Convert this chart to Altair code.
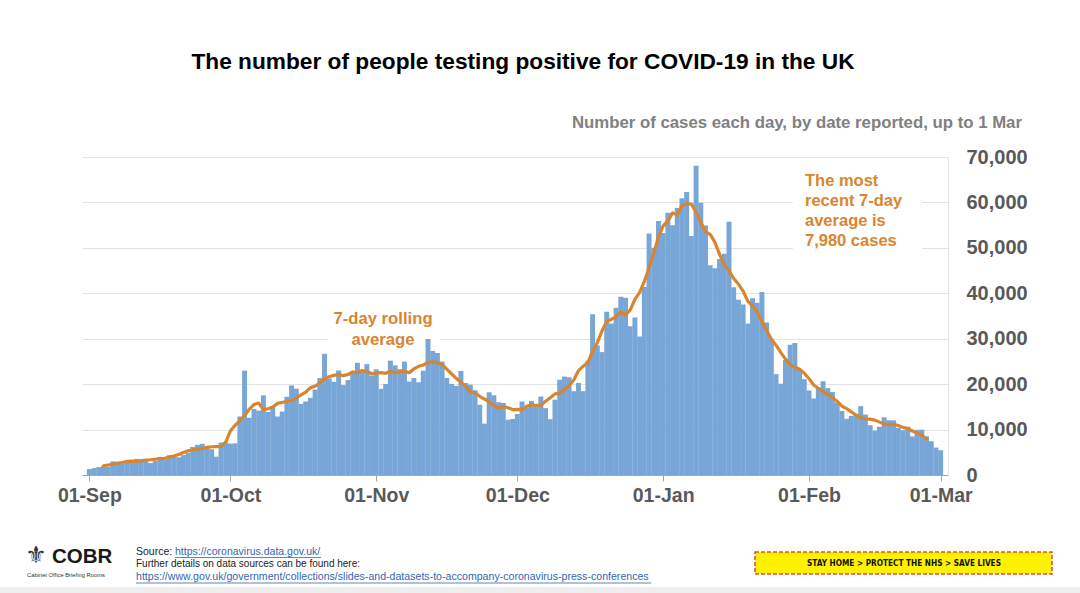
import altair as alt
import pandas as pd

# ---------------- data (daily cases by date reported) ----------------
sep_cases = [1295, 1508, 1735, 1940, 1813, 2988, 2948, 2460, 2659, 2919,
             3539, 3497, 3330, 2621, 3105, 3991, 3395, 4322, 4422, 3899,
             4368, 4926, 6178, 6634, 6874, 6042, 5693, 4044, 7143, 7108]
oct_cases = [6914, 6968, 12872, 22961, 12594, 14542, 14162, 17540, 13864, 15166,
             12872, 13972, 17234, 19724, 18980, 15650, 16171, 16982, 18804, 21331,
             26688, 21242, 20530, 23012, 19790, 20890, 22885, 24701, 23065, 24405,
             21915]
nov_cases = [23254, 18950, 20018, 25177, 24141, 23287, 24957, 20572, 21350, 20412,
             22950, 29950, 27301, 26860, 24962, 21363, 20051, 19609, 22915, 20252,
             19875, 18662, 15450, 11299, 18213, 17555, 16022, 15871, 12155, 12330]
dec_cases = [13430, 16170, 14879, 16298, 15539, 17272, 14718, 12282, 16578, 20964,
             21672, 21502, 18447, 20263, 18450, 25161, 35383, 28507, 27052, 35928,
             33364, 36804, 39237, 39036, 32725, 34693, 30501, 41385, 53135, 50023,
             55892]
jan_cases = [53285, 57725, 54990, 58784, 60916, 62322, 52618, 68053, 59937, 54940,
             46169, 45533, 47525, 48682, 55761, 41346, 38598, 37535, 33355, 38905,
             37892, 40261, 33552, 30004, 22195, 20089, 25308, 28680, 29079, 23275,
             21088]
feb_cases = [18607, 16840, 19202, 20634, 19114, 18262, 15845, 14104, 12364, 13013,
             13494, 15144, 13308, 10972, 9765, 10625, 12718, 12057, 12027, 10406,
             9834, 10641, 8489, 9938, 9985, 8523, 7434, 6035]
mar_cases = [5455]

month_ticks = [0, 30, 61, 91, 122, 153, 181]
month_labels = ["01-Sep", "01-Oct", "01-Nov", "01-Dec", "01-Jan", "01-Feb", "01-Mar"]
y_ticks = [0, 10000, 20000, 30000, 40000, 50000, 60000, 70000]

title_text = "The number of people testing positive for COVID-19 in the UK"
subtitle_text = "Number of cases each day, by date reported, up to 1 Mar"
rolling_note = ["7-day rolling", "average"]
recent_note = ["The most", "recent 7-day", "average is", "7,980 cases"]

cases = sep_cases + oct_cases + nov_cases + dec_cases + jan_cases + feb_cases + mar_cases
df = pd.DataFrame({"day": list(range(len(cases))), "cases": cases})

# ---------------- layout / style ----------------
PL, PT = 82, 157          # plot origin in page pixels
W, H = 866, 318
FONT = "Liberation Sans, Arial, sans-serif"
BAR = "#78A6D7"
ORANGE = "#D9852F"
AXIS_TXT = "#595959"

xscale = alt.Scale(domain=[-0.5, len(cases) - 0.5], nice=False, zero=False)
yscale = alt.Scale(domain=[0, 70000], nice=False)

label_expr = ("[" + ",".join("'%s'" % l for l in month_labels) + "][indexof(["
              + ",".join(str(t) for t in month_ticks) + "], datum.value)]")

x_axis = alt.Axis(values=month_ticks, labelExpr=label_expr, grid=False, title=None,
                  domainColor="#A6A6A6", tickColor="#A6A6A6", tickSize=6,
                  labelFontSize=19.5, labelFontWeight="bold", labelColor=AXIS_TXT,
                  labelFont=FONT, labelPadding=5, labelFlush=False, labelOverlap=False)
y_axis = alt.Axis(orient="right", values=y_ticks, labelExpr="format(datum.value, ',')",
                  grid=True, title=None,
                  gridColor="#E3E3E3", gridWidth=1, ticks=False,
                  domain=True, domainColor="#E3E3E3",
                  labelFontSize=20, labelFontWeight="bold", labelColor=AXIS_TXT,
                  labelFont=FONT, labelPadding=18, labelAlign="left")

one = pd.DataFrame({"k": [0]})


def txt(s, x, y, size, color, weight="normal", align="left", font=FONT):
    return alt.Chart(one).mark_text(
        text=s, fontSize=size, color=color, fontWeight=weight, align=align,
        baseline="middle", font=font
    ).encode(x=alt.value(x - PL), y=alt.value(y - PT))


def box(x1, y1, x2, y2, fill, stroke=None, dash=None, sw=0):
    kw = dict(fill=fill, strokeWidth=sw)
    if stroke:
        kw["stroke"] = stroke
    if dash:
        kw["strokeDash"] = dash
    return alt.Chart(one).mark_rect(**kw).encode(
        x=alt.value(x1 - PL), x2=alt.value(x2 - PL),
        y=alt.value(y1 - PT), y2=alt.value(y2 - PT))


def hline(x1, x2, y, color, w=0.8):
    return alt.Chart(one).mark_rule(color=color, strokeWidth=w).encode(
        x=alt.value(x1 - PL), x2=alt.value(x2 - PL), y=alt.value(y - PT))


bars = alt.Chart(df).mark_bar(color=BAR, size=4.95, orient="vertical").encode(
    x=alt.X("day:Q", scale=xscale, axis=x_axis),
    y=alt.Y("cases:Q", scale=yscale, axis=y_axis),
)

line = alt.Chart(df).transform_window(
    avg="mean(cases)", n="count(cases)", frame=[-3, 3], sort=[alt.SortField("day")]
).transform_filter("datum.n == 7").mark_line(
    color=ORANGE, strokeWidth=3.2, strokeJoin="round", strokeCap="round"
).encode(
    x=alt.X("day:Q", scale=xscale, axis=x_axis),
    y=alt.Y("avg:Q", scale=yscale, axis=y_axis),
)

# white boxes behind annotation texts (they break the gridlines)
bg1 = box(328, 306, 440, 353, "white")
bg2 = box(793, 166, 922, 252, "white")

layers = [bg1, bg2, bars, line]

# titles
layers.append(txt(title_text, 523, 62, 22.7, "#000000", "bold", "center"))
layers.append(txt(subtitle_text, 1022, 123, 16.8, "#808080", "bold", "right"))

# annotations
layers.append(txt(rolling_note[0], 383, 319, 16.7, ORANGE, "bold", "center"))
layers.append(txt(rolling_note[1], 383, 340, 16.7, ORANGE, "bold", "center"))
for i, s in enumerate(recent_note):
    layers.append(txt(s, 805, 181 + 20 * i, 16.5, ORANGE, "bold", "left"))

# footer: logo
layers.append(txt("\u269C", 36, 556, 24, "#333333", "normal", "center", "DejaVu Sans"))
layers.append(txt("COBR", 52, 557, 20.5, "#1a1a1a", "bold", "left"))
layers.append(txt("Cabinet Office Briefing Rooms", 27, 575, 5.8, "#333333", "normal", "left"))

# footer: sources
LINK = "#3566B0"
layers.append(txt("Source:", 136, 551.5, 10.5, "#222222", "normal", "left"))
layers.append(txt("https://coronavirus.data.gov.uk/", 175, 551.5, 10.5, LINK, "normal", "left"))
layers.append(hline(175, 321, 557.5, LINK))
layers.append(txt("Further details on data sources can be found here:", 136, 564, 10.0, "#222222", "normal", "left"))
layers.append(txt("https://www.gov.uk/government/collections/slides-and-datasets-to-accompany-coronavirus-press-conferences",
                  136, 577, 10.6, LINK, "normal", "left"))
layers.append(hline(136, 651, 583, LINK))

# footer: banner
layers.append(box(755, 552, 1052, 574, "#FFF200", "#E2542A", [4, 2], 1.6))
layers.append(txt("STAY HOME > PROTECT THE NHS > SAVE LIVES", 904, 563.5, 8.2, "#111111", "bold", "center",
                  "Liberation Sans Narrow, DejaVu Sans Condensed, Arial Narrow, sans-serif"))

# bottom grey strip
layers.append(box(0, 587, 1080, 593, "#EEEEEE"))

chart = alt.layer(*layers).properties(
    width=W, height=H,
    padding={"left": PL, "top": PT, "right": 1080 - PL - W, "bottom": 593 - PT - H},
    autosize=alt.AutoSizeParams(type="none"),
    background="white",
).configure_view(stroke=None)

chart.save("out.html", embed_options={"renderer": "svg", "actions": False})
